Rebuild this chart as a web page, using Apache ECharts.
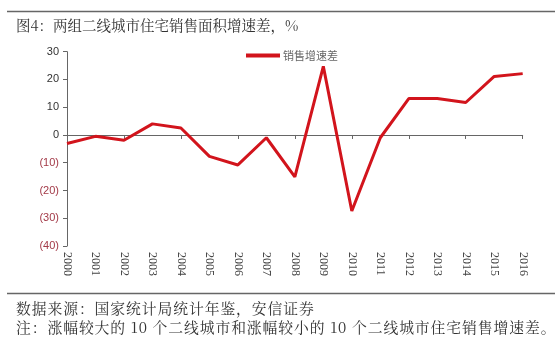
<!DOCTYPE html>
<html><head><meta charset="utf-8">
<script src="https://cdn.jsdelivr.net/npm/echarts@6/dist/echarts.min.js"></script>
<style>html,body{margin:0;padding:0;background:#fff}#c{width:560px;height:355px}</style>
</head><body><div id="c"></div>
<script>
const years = ['2000','2001','2002','2003','2004','2005','2006','2007','2008','2009','2010','2011','2012','2013','2014','2015','2016'];
const salesGap = [-3.1,-0.5,-1.9,4.0,2.5,-7.7,-10.8,-1.0,-15.1,24.7,-27.4,-1.0,13.1,13.1,11.7,21.1,22.1];
const seriesName = '销售增速差';
const titleText = '图4：两组二线城市住宅销售面积增速差，%';
const sourceText = '数据来源：国家统计局统计年鉴，安信证券';
const noteText = '注：涨幅较大的 10 个二线城市和涨幅较小的 10 个二线城市住宅销售增速差。';

// widen tracking of footer lines (reference uses loosely spaced serif CJK)
function spaced(s){ return Array.from(s).join('\u200A'); }

const chart = echarts.init(document.getElementById('c'), null, {renderer:'canvas'});
const cjk = '"Noto Serif CJK SC","Noto Sans CJK SC",serif';
chart.setOption({
  animation:false,
  backgroundColor:'#fff',
  graphic:[
    {type:'line',shape:{x1:7,y1:11.5,x2:555,y2:11.5},style:{stroke:'#666',lineWidth:1.5}},
    {type:'text',left:16,top:18,style:{text:titleText,font:'14.5px '+cjk,fill:'#333'}},
    {type:'line',shape:{x1:7,y1:293.5,x2:555,y2:293.5},style:{stroke:'#666',lineWidth:1.5}},
    {type:'text',left:16,top:301,style:{text:spaced(sourceText),font:'14.8px '+cjk,fill:'#333'}},
    {type:'text',left:16,top:320,style:{text:spaced(noteText),font:'14.8px '+cjk,fill:'#333'}}
  ],
  legend:{
    data:[seriesName],left:241,top:45,itemWidth:34,itemHeight:4,itemGap:3,
    icon:'rect',
    textStyle:{fontSize:11,color:'#666',fontFamily:'"Noto Sans CJK SC",sans-serif',padding:[0,0,0,-2]}
  },
  grid:{left:67,top:51.7,right:37.3,bottom:109,containLabel:false},
  xAxis:[
    {type:'category',data:years,boundaryGap:false,
     axisLine:{onZero:true,lineStyle:{color:'#666',width:1}},
     axisTick:{show:true,alignWithLabel:true,length:4,inside:false,lineStyle:{color:'#666'}},
     axisLabel:{show:false},splitLine:{show:false}},
    {type:'category',data:years,boundaryGap:false,position:'bottom',
     axisLine:{show:false,onZero:false},axisTick:{show:false},
     axisLabel:{show:true,rotate:-90,margin:6,fontSize:12,color:'#444',fontFamily:'"Liberation Serif","DejaVu Serif",serif'},
     splitLine:{show:false}}
  ],
  yAxis:{type:'value',min:-40,max:30,interval:10,
    axisLine:{show:true,lineStyle:{color:'#666',width:1}},
    axisTick:{show:true,length:4,lineStyle:{color:'#666'}},
    splitLine:{show:false},
    axisLabel:{margin:8,fontSize:11,fontFamily:'"Liberation Sans","DejaVu Sans",sans-serif',
      formatter:function(v){return v<0?'{n|('+Math.abs(v)+')}':'{p|'+v+'}';},
      rich:{n:{color:'#a33a48',fontSize:11},p:{color:'#333',fontSize:11}}}
  },
  series:[{name:seriesName,type:'line',data:salesGap,xAxisIndex:0,
    symbol:'none',lineStyle:{color:'#d2141c',width:3},itemStyle:{color:'#d2141c'}}]
});
</script></body></html>
